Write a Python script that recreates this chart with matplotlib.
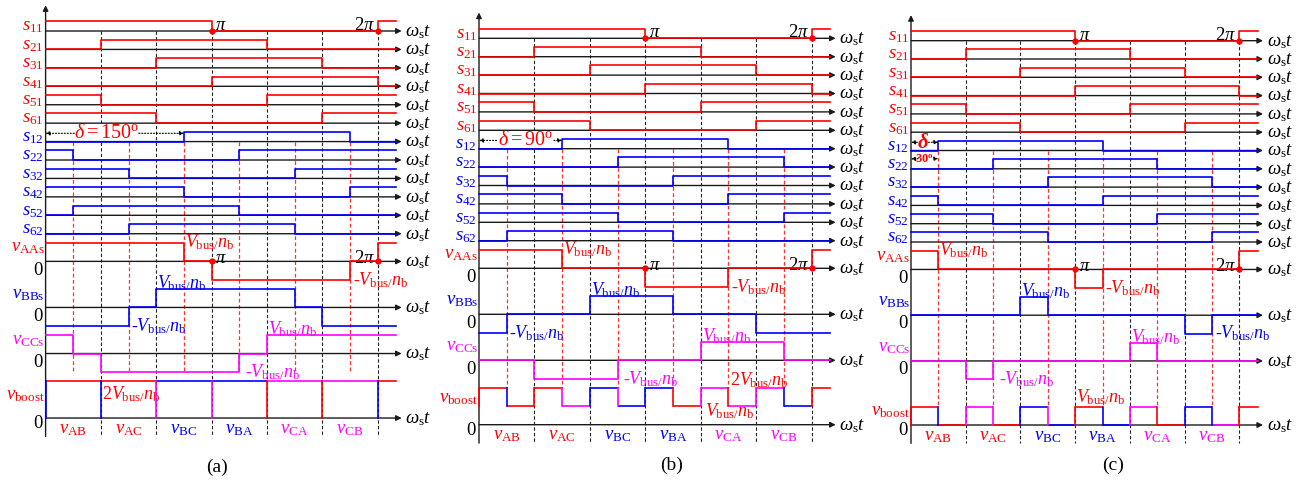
import matplotlib
matplotlib.use('Agg')
import matplotlib.pyplot as plt

plt.rcParams['font.family'] = 'Liberation Serif'
plt.rcParams['mathtext.fontset'] = 'custom'
plt.rcParams['mathtext.rm'] = 'Liberation Serif'
plt.rcParams['mathtext.it'] = 'Liberation Serif:italic'
plt.rcParams['mathtext.bf'] = 'Liberation Serif:bold'

RED = '#ff0000'
BLUE = '#0000ff'
MAG = '#ff00ff'
AXC = '#1a1a1a'

PANEL_NAMES = ['(a)', '(b)', '(c)']
DELTA = [150, 90, 30]

# switching angles (deg) and the level of each piece between them
S1_NAMES = ['11', '21', '31', '41', '51', '61']
S1_EDGES = [[180, 360], [60, 240], [120, 300], [180, 360], [60, 240], [120, 300]]
S1_LEVELS = [[1, 0, 1], [0, 1, 0], [0, 1, 0], [0, 1, 0], [1, 0, 1], [1, 0, 1]]

S2_NAMES = ['12', '22', '32', '42', '52', '62']
S2_EDGES = [
    [[150, 330], [30, 210], [90, 270], [150, 330], [30, 210], [90, 270]],
    [[90, 270], [150, 330], [30, 210], [90, 270], [150, 330], [30, 210]],
    [[30, 210], [90, 270], [150, 330], [30, 210], [90, 270], [150, 330]],
]
S2_LEVELS = [
    [[0, 1, 0], [1, 0, 1], [1, 0, 1], [1, 0, 1], [0, 1, 0], [0, 1, 0]],
    [[0, 1, 0], [0, 1, 0], [1, 0, 1], [1, 0, 1], [1, 0, 1], [0, 1, 0]],
    [[0, 1, 0], [0, 1, 0], [0, 1, 0], [1, 0, 1], [1, 0, 1], [1, 0, 1]],
]

VAA_EDGES = [[150, 180, 330, 360], [90, 180, 270, 360], [30, 180, 210, 360]]
VAA_LEVELS = [[1, 0, -1, 0, 1], [1, 0, -1, 0, 1], [1, 0, -1, 0, 1]]
VBB_EDGES = [[90, 120, 270, 300], [30, 120, 210, 300], [120, 150, 300, 330]]
VBB_LEVELS = [[-1, 0, 1, 0, -1], [-1, 0, 1, 0, -1], [0, 1, 0, -1, 0]]
VCC_EDGES = [[30, 60, 210, 240], [60, 150, 240, 330], [60, 90, 240, 270]]
VCC_LEVELS = [[1, 0, -1, 0, 1], [0, -1, 0, 1, 0], [0, -1, 0, 1, 0]]

# v_boost: one level per 30 deg sector, its colour, and colour of the edge at each 30 deg mark
SECTORS = [0, 30, 60, 90, 120, 150, 180, 210, 240, 270, 300, 330]
BOOST_LEVELS = [
    [2, 2, 2, 2, 2, 2, 2, 2, 2, 2, 2, 2],
    [2, 1, 2, 1, 2, 1, 2, 1, 2, 1, 2, 1],
    [1, 0, 1, 0, 1, 0, 1, 0, 1, 0, 1, 0],
]
BOOST_COLORS = [
    [RED, RED, RED, RED, BLUE, BLUE, BLUE, BLUE, MAG, MAG, MAG, MAG],
    [RED, RED, RED, MAG, BLUE, BLUE, BLUE, RED, MAG, MAG, MAG, BLUE],
    [RED, RED, MAG, RED, BLUE, BLUE, RED, BLUE, MAG, RED, BLUE, MAG],
]
BOOST_EDGE_COLORS = [
    [BLUE, None, BLUE, None, MAG, None, MAG, None, RED, None, RED, None, BLUE],
    [RED, BLUE, RED, MAG, BLUE, MAG, BLUE, RED, MAG, RED, MAG, BLUE, RED],
    [RED, BLUE, MAG, MAG, BLUE, MAG, RED, BLUE, MAG, RED, BLUE, BLUE, RED],
]

LINE_LABELS = ['AB', 'AC', 'BC', 'BA', 'CA', 'CB']
LINE_COLORS = [RED, RED, BLUE, BLUE, MAG, MAG]
BLACK_GRID = [60, 120, 180, 240, 300, 360]
RED_GRID = [30, 90, 150, 210, 270, 330]

T_END = 380
T_ARROW = 386
ROW_V = [12.5, 15, 17.5]
ROW_BOOST = 21
ROW_BOTTOM = 22
HI = 0.53

# panel placement in pixels: left, right, x of t=0, y of s11 axis, px/deg, px/row
PANEL_GEOM = [(0, 432, 45.6, 32.0, 0.9225, 18.43),
              (432, 862, 479.0, 39.3, 0.924, 18.4),
              (862, 1302, 911.0, 41.7, 0.912, 18.3)]
RED_GRID_END = [18.5, 19, 20]
NAME_ROW = [23.6, 23.15, 23.15]
NAME_X = [186, 208, 222]
BOOST_LBL_ROW = [19.75, 19.5, 20.2]

W, H = 1302, 481
FS = 13
FS_ROW = 13.5
VB = r'$V_{\rm bus/}n_{\rm b}$'


def wave(ax, edges, levels, base, amp, color):
    x = [0] + list(edges) + [T_END]
    y = [base - amp * v for v in levels] + [base - amp * levels[-1]]
    ax.step(x, y, where='post', color=color, lw=1.2, zorder=4, clip_on=False)


def time_axis(ax, row):
    ax.annotate('', xy=(T_ARROW, row), xytext=(0, row),
                arrowprops=dict(arrowstyle='-|>', color=AXC, lw=1.0,
                                mutation_scale=8, shrinkA=0, shrinkB=0), zorder=3)
    ax.text(390, row, r'$\omega_{\rm s}t$', fontsize=FS_ROW, va='center', ha='left')


def dotted_arrow(ax, x0, x1, y):
    ax.annotate('', xy=(x1, y), xytext=(x0, y),
                arrowprops=dict(arrowstyle='-|>', color='k', lw=0.8, linestyle=':',
                                mutation_scale=6, shrinkA=0, shrinkB=0), zorder=5)


fig = plt.figure(figsize=(W / 100, H / 100), dpi=100)

for p in range(3):
    l, r, ox, oy, sx, sy = PANEL_GEOM[p]
    ax = fig.add_axes([l / W, 0, (r - l) / W, 1])
    ax.set_xlim((l - ox) / sx, (r - ox) / sx)
    ax.set_ylim((H - oy) / sy, -oy / sy)
    ax.axis('off')
    d = DELTA[p]

    # vertical y axis
    ax.annotate('', xy=(0, -1.4), xytext=(0, ROW_BOTTOM),
                arrowprops=dict(arrowstyle='-|>', color=AXC, lw=1.0,
                                mutation_scale=8, shrinkA=0, shrinkB=0), zorder=3)

    # dashed guides
    ax.vlines(BLACK_GRID, 0, ROW_BOTTOM, colors='#222222', lw=0.8,
              linestyles=(0, (3, 2)), zorder=1)
    ax.vlines(RED_GRID, 6, RED_GRID_END[p], colors='#ff3030', lw=0.9,
              linestyles=(0, (3, 2)), zorder=1)

    # switching signals
    for i in range(6):
        time_axis(ax, i)
        wave(ax, S1_EDGES[i], S1_LEVELS[i], i, HI, RED)
        ax.text(-2, i - 0.28, '$s_{%s}$' % S1_NAMES[i], color=RED, fontsize=FS_ROW,
                ha='right', va='center')
    for i in range(6):
        row = 6 + i
        time_axis(ax, row)
        wave(ax, S2_EDGES[p][i], S2_LEVELS[p][i], row, HI, BLUE)
        ax.text(-2, row - 0.28, '$s_{%s}$' % S2_NAMES[i], color=BLUE, fontsize=FS_ROW,
                ha='right', va='center')

    # phase voltages
    vsets = [(VAA_EDGES[p], VAA_LEVELS[p], RED, 'AAs'),
             (VBB_EDGES[p], VBB_LEVELS[p], BLUE, 'BBs'),
             (VCC_EDGES[p], VCC_LEVELS[p], MAG, 'CCs')]
    for (edges, levels, col, name), row in zip(vsets, ROW_V):
        time_axis(ax, row)
        wave(ax, edges, levels, row, 1, col)
        ax.text(-1, row - 0.78, r'$v_{\rm %s}$' % name, color=col, fontsize=FS_ROW,
                ha='right', va='center')
        ax.text(-3.5, row + 0.42, '0', fontsize=FS_ROW, ha='right', va='center')

    # v_boost
    time_axis(ax, ROW_BOOST)
    lv = BOOST_LEVELS[p]
    cl = BOOST_COLORS[p]
    ec = BOOST_EDGE_COLORS[p]
    for k in range(12):
        ax.plot([SECTORS[k], SECTORS[k] + 30], [ROW_BOOST - lv[k]] * 2,
                color=cl[k], lw=1.2, zorder=4, solid_capstyle='butt')
    ax.plot([360, T_END], [ROW_BOOST - lv[0]] * 2, color=cl[0], lw=1.2, zorder=4)
    for k in range(13):
        if ec[k] is None:
            continue
        a, b = lv[(k - 1) % 12], lv[k % 12]
        lo, hi = min(a, b), max(a, b)
        if lo == hi:
            lo = 0
        ax.plot([30 * k] * 2, [ROW_BOOST - lo, ROW_BOOST - hi], color=ec[k],
                lw=1.2, zorder=4)
    ax.text(-1, BOOST_LBL_ROW[p], r'$v_{\rm boost}$', color=RED, fontsize=FS_ROW,
            ha='right', va='center')
    ax.text(-3.5, ROW_BOOST + 0.25, '0', fontsize=FS_ROW, ha='right', va='center')

    # pi marks
    for row, off in ((0, -0.35), (ROW_V[0], -0.22)):
        ax.plot([180, 360], [row, row], 'o', color=RED, ms=3.5, zorder=6)
        ax.text(184, row + off, r'$\pi$', fontsize=FS_ROW, ha='left', va='center')
        ax.text(357, row + off, r'$2\pi$', fontsize=FS_ROW, ha='right', va='center')

    # voltage annotations
    ax.text(d + 1, 11.4, VB, color=RED, fontsize=FS, va='center')
    ax.text(180 + d + 3, 13.45, '-' + VB, color=RED, fontsize=FS, va='center')
    ax.text(121, 13.65, VB, color=BLUE, fontsize=FS, va='center')
    ax.text((300 + d) % 360 + 3, 15.95, '-' + VB, color=BLUE, fontsize=FS, va='center')
    ax.text(241, 16.15, VB, color=MAG, fontsize=FS, va='center')
    ax.text(60 + d + 6, 18.45, '-' + VB, color=MAG, fontsize=FS, va='center')

    # sector labels along the bottom
    for k in range(6):
        ax.text(60 * k + 30, 21.55, r'$v_{\rm %s}$' % LINE_LABELS[k],
                color=LINE_COLORS[k], fontsize=FS_ROW, ha='center', va='center')

    ax.text(NAME_X[p], NAME_ROW[p], PANEL_NAMES[p], fontsize=14,
            ha='center', va='center')

    # delta annotation
    if p == 0:
        ax.text(66, 5.5, r'$\delta = 150^{\rm o}$', color=RED, fontsize=14.5,
                ha='center', va='center', zorder=2.5,
                bbox=dict(fc='white', ec='none', pad=0))
        dotted_arrow(ax, 31, 0, 5.55)
        dotted_arrow(ax, 101, d, 5.55)
        ax.text(61, 19.65, '2' + VB, color=RED, fontsize=FS, va='center')
    elif p == 1:
        ax.text(50, 5.5, r'$\delta = 90^{\rm o}$', color=RED, fontsize=14.5,
                ha='center', va='center', zorder=2.5,
                bbox=dict(fc='white', ec='none', pad=0))
        dotted_arrow(ax, 19, 0, 5.55)
        dotted_arrow(ax, 81, d, 5.55)
        ax.text(272, 18.5, '2' + VB, color=RED, fontsize=FS, va='center')
        ax.text(245, 20.2, VB, color=RED, fontsize=FS, va='center')
    else:
        ax.text(13, 5.55, 'δ', color=RED, fontsize=15, fontstyle='italic',
                fontweight='bold', ha='center', va='center', zorder=6)
        dotted_arrow(ax, 7, 0, 5.55)
        dotted_arrow(ax, 19, d, 5.55)
        ax.text(15, 6.45, r'$\mathbf{30}^{\mathbf{o}}$', color=RED, fontsize=9,
                ha='center', va='center', zorder=6)
        dotted_arrow(ax, 8, 0, 6.45)
        dotted_arrow(ax, 26, d, 6.45)
        ax.text(180.5, 19.4, VB, color=RED, fontsize=FS, va='center')

fig.savefig('out.png', dpi=100)
